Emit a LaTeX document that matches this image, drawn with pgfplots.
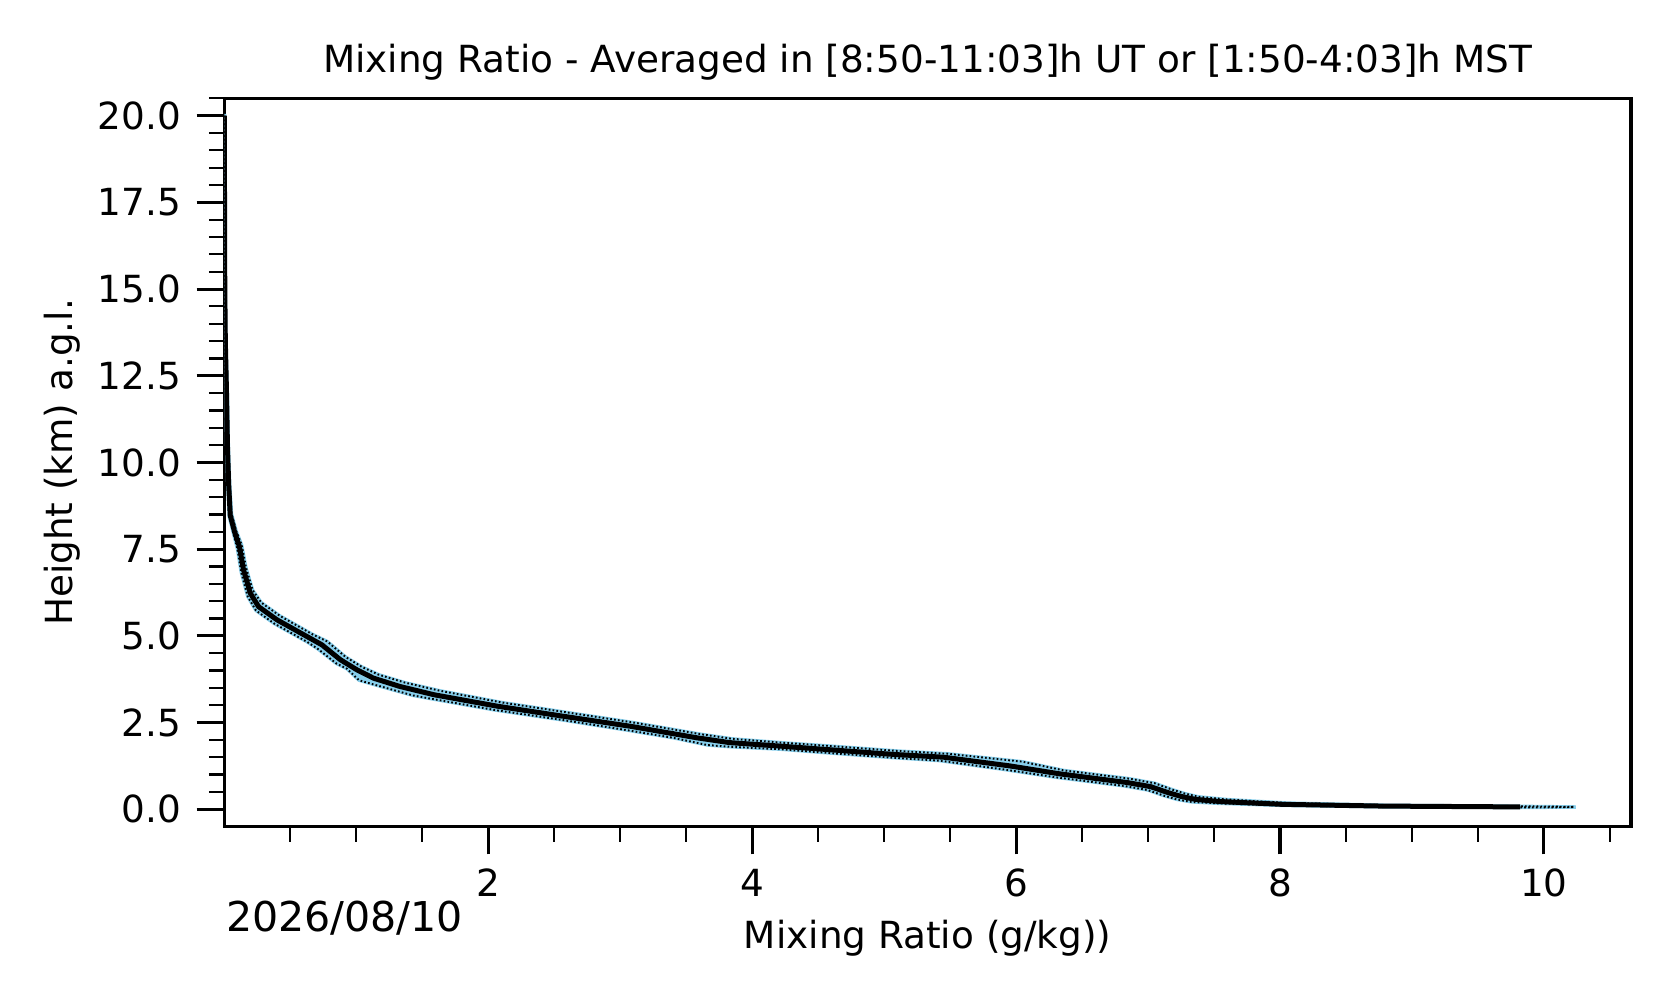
\documentclass[border=0pt]{standalone}
\usepackage{pgfplots}
\pgfplotsset{compat=1.18}
\usepgfplotslibrary{fillbetween}
\usepackage{fontspec}
\setmainfont{DejaVu Sans}
\definecolor{bandblue}{RGB}{135,206,235}

\pgfplotstableread{
x y
0.001 20.0
0.002 17.0
0.004 15.0
0.008 13.5
0.014 12.5
0.018 11.8
0.024 10.5
0.033 9.40
0.045 8.48
0.078 8.00
0.115 7.57
0.146 6.90
0.197 6.23
0.260 5.84
0.400 5.46
0.650 4.93
0.740 4.74
0.880 4.31
1.005 4.02
1.130 3.78
1.330 3.54
1.590 3.30
2.070 2.97
2.570 2.68
3.080 2.39
3.580 2.06
3.830 1.92
4.210 1.82
4.570 1.72
5.070 1.58
5.450 1.50
5.950 1.25
6.330 1.02
6.840 0.77
7.020 0.65
7.150 0.48
7.250 0.37
7.350 0.29
7.450 0.25
7.550 0.22
8.020 0.14
8.780 0.09
9.820 0.066
}\meantab

\pgfplotstableread{
x y
0.003 20.0
0.004 17.0
0.007 15.0
0.012 13.5
0.020 12.5
0.025 11.8
0.031 10.5
0.041 9.40
0.055 8.52
0.090 8.03
0.132 7.62
0.165 6.96
0.215 6.32
0.280 5.96
0.420 5.58
0.670 5.04
0.780 4.84
0.920 4.39
1.040 4.11
1.170 3.88
1.370 3.65
1.630 3.42
2.100 3.08
2.600 2.79
3.100 2.50
3.600 2.17
3.850 2.03
4.220 1.92
4.600 1.82
5.100 1.68
5.480 1.60
6.050 1.37
6.360 1.12
6.860 0.88
7.050 0.75
7.180 0.57
7.280 0.45
7.380 0.36
7.600 0.28
8.050 0.18
8.800 0.115
9.820 0.085
10.23 0.066
}\uptab

\pgfplotstableread{
x y
0.000 20.0
0.001 17.0
0.002 15.0
0.005 13.5
0.009 12.5
0.012 11.8
0.018 10.5
0.026 9.40
0.037 8.44
0.068 7.97
0.100 7.50
0.128 6.84
0.178 6.13
0.240 5.73
0.380 5.35
0.630 4.82
0.710 4.62
0.850 4.20
0.930 4.05
1.020 3.72
1.110 3.62
1.430 3.28
1.560 3.19
2.050 2.86
2.550 2.58
3.050 2.28
3.400 2.06
3.660 1.85
3.830 1.80
4.210 1.73
4.550 1.63
5.050 1.49
5.420 1.40
5.900 1.15
6.300 0.92
6.820 0.67
7.000 0.55
7.120 0.39
7.220 0.28
7.330 0.21
7.520 0.17
8.000 0.11
8.780 0.068
9.820 0.050
10.23 0.058
}\lowtab

\begin{document}
\begin{tikzpicture}
\begin{axis}[
  at={(0,0)}, anchor=south west,
  scale only axis,
  width=506.5bp, height=262.2bp,
  xmin=0, xmax=10.66,
  ymin=-0.5, ymax=20.5,
  axis line style={line width=1.1bp},
  tick align=outside,
  xtick pos=bottom, ytick pos=left,
  xtick={2,4,6,8,10},
  minor xtick={0.5,1,1.5,2.5,3,3.5,4.5,5,5.5,6.5,7,7.5,8.5,9,9.5,10.5},
  ytick={0,2.5,5,7.5,10,12.5,15,17.5,20},
  minor ytick={0.5,1,...,20.5},
  major tick length=10bp, minor tick length=5.5bp,
  major tick style={line width=1.1bp, black},
  minor tick style={line width=0.8bp, black},
  font=\fontsize{13.45bp}{16bp}\selectfont,
  /pgf/number format/assume math mode=true,
  yticklabel style={xshift=-2bp, /pgf/number format/.cd, fixed, fixed zerofill, precision=1},
  xticklabel style={yshift=-1.8bp, /pgf/number format/.cd, fixed, precision=0},
  title={Mixing Ratio - Averaged in [8:50-11:03]h UT or [1:50-4:03]h MST},
  title style={at={(axis description cs:0.5,1.0126)}, anchor=base, yshift=0pt, font=\fontsize{13.45bp}{16bp}\selectfont},
  xlabel={Mixing Ratio (g/kg))},
  xlabel style={at={(axis description cs:0.5,-0.1678)}, anchor=base, font=\fontsize{13.45bp}{16bp}\selectfont},
  ylabel={Height (km) a.g.l.},
  ylabel style={at={(axis description cs:-0.1153,0.5)}, anchor=center, font=\fontsize{13.45bp}{16bp}\selectfont},
]
\addplot[draw=none, name path=up, forget plot] table {\uptab};
\addplot[draw=none, name path=low, forget plot] table {\lowtab};
\addplot[fill=bandblue, draw=bandblue, line width=1.2bp, forget plot] fill between[of=up and low];
\addplot[black, line width=0.7bp, dash pattern=on 0.6bp off 0.8bp] table {\uptab};
\addplot[black, line width=0.7bp, dash pattern=on 0.6bp off 0.8bp] table {\lowtab};
\addplot[black, line width=1.8bp] table {\meantab};
\end{axis}
\node[anchor=base west, font=\fontsize{14.8bp}{17bp}\selectfont, inner sep=0pt] at (0.5bp,-37.8bp) {2026/08/10};
\path (-80.75bp,-63.5bp) rectangle (522.7bp,297.6bp);
\end{tikzpicture}
\end{document}
